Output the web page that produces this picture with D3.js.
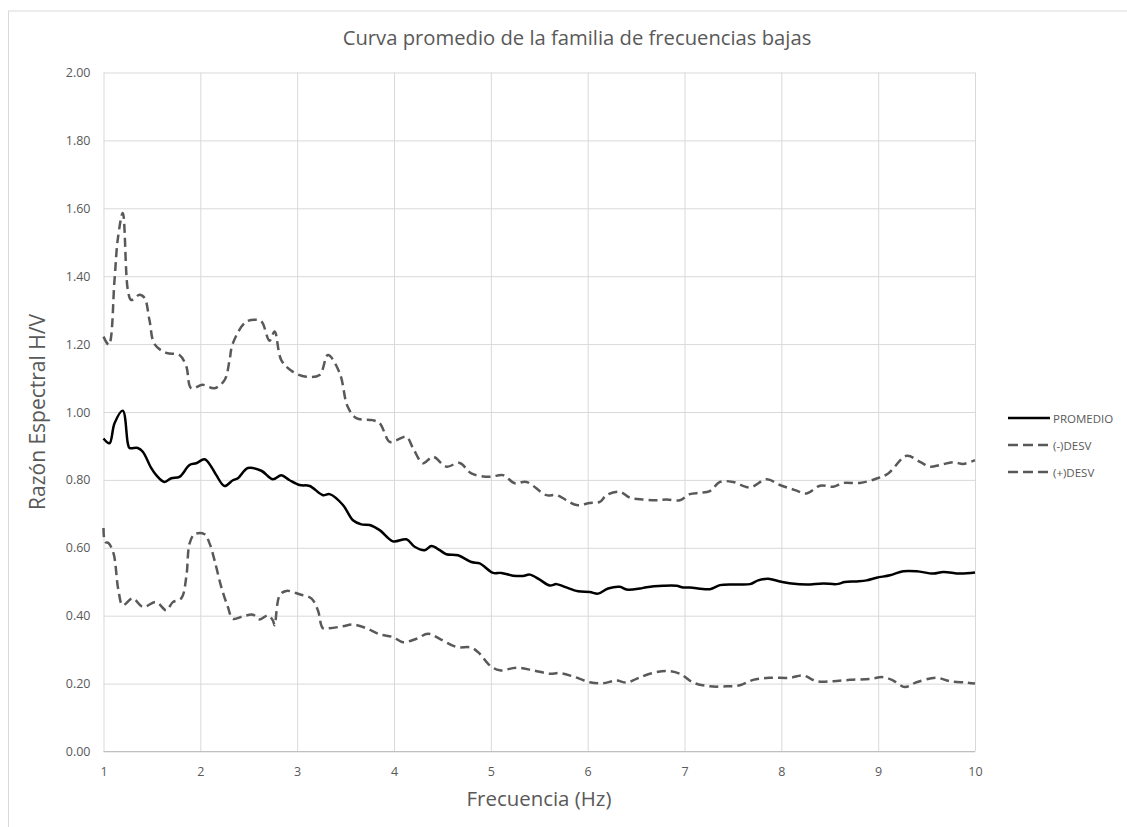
<!DOCTYPE html>
<html><head><meta charset="utf-8">
<script src="https://cdn.jsdelivr.net/npm/d3@7"></script>
<style>
html,body{margin:0;padding:0;background:#fff;}
svg{display:block;font-family:"Open Sans","Noto Sans",sans-serif;}
</style></head>
<body>
<svg id="c" width="1127" height="827"></svg>
<script>
const title = "Curva promedio de la familia de frecuencias bajas";
const xTitle = "Frecuencia (Hz)";
const yTitle = "Razón Espectral H/V";
const seriesNames = ["PROMEDIO", "(-)DESV", "(+)DESV"];
const xTicks = [1,2,3,4,5,6,7,8,9,10];
const yTicks = [0,0.2,0.4,0.6,0.8,1.0,1.2,1.4,1.6,1.8,2.0];

const promFreq = [1.00,1.062,1.114,1.199,1.251,1.269,1.354,1.406,1.493,1.545,1.630,1.700,1.785,1.889,1.958,2.044,2.113,2.165,2.250,2.336,2.388,2.491,2.630,2.749,2.836,2.922,3.025,3.129,3.266,3.335,3.473,3.576,3.663,3.749,3.852,3.989,4.128,4.213,4.317,4.386,4.472,4.541,4.661,4.799,4.885,5.023,5.109,5.229,5.333,5.402,5.505,5.608,5.678,5.763,5.901,6.022,6.108,6.211,6.332,6.401,6.539,6.608,6.779,6.918,6.986,7.055,7.262,7.366,7.521,7.676,7.761,7.864,7.985,8.106,8.261,8.432,8.571,8.656,8.777,8.881,8.984,9.122,9.259,9.397,9.569,9.672,9.845,10.0];
const promVal  = [0.922,0.908,0.967,1.004,0.908,0.894,0.894,0.883,0.835,0.814,0.794,0.805,0.809,0.844,0.849,0.861,0.839,0.814,0.782,0.799,0.805,0.835,0.827,0.802,0.814,0.799,0.785,0.782,0.755,0.758,0.726,0.681,0.669,0.667,0.652,0.619,0.625,0.603,0.593,0.605,0.593,0.581,0.578,0.558,0.554,0.526,0.526,0.518,0.517,0.521,0.506,0.489,0.493,0.485,0.472,0.470,0.465,0.480,0.485,0.477,0.480,0.484,0.488,0.488,0.483,0.483,0.478,0.490,0.492,0.493,0.504,0.509,0.501,0.495,0.492,0.495,0.493,0.499,0.501,0.504,0.512,0.519,0.531,0.531,0.524,0.529,0.524,0.527];

const lowFreq = [1.00,1.017,1.051,1.103,1.154,1.199,1.303,1.406,1.545,1.648,1.716,1.803,1.855,1.889,1.940,2.044,2.095,2.147,2.216,2.284,2.336,2.439,2.543,2.612,2.698,2.749,2.767,2.819,2.888,3.025,3.146,3.214,3.266,3.335,3.473,3.576,3.714,3.852,3.989,4.093,4.231,4.351,4.472,4.644,4.799,4.885,4.988,5.092,5.264,5.436,5.608,5.712,5.849,6.022,6.159,6.297,6.401,6.504,6.642,6.814,6.952,7.089,7.262,7.434,7.572,7.709,7.882,8.088,8.226,8.364,8.536,8.708,8.915,9.052,9.155,9.276,9.397,9.603,9.741,9.913,10.0];
const lowVal  = [0.658,0.617,0.614,0.584,0.475,0.431,0.451,0.426,0.440,0.416,0.440,0.451,0.514,0.613,0.640,0.640,0.613,0.563,0.485,0.426,0.391,0.398,0.403,0.389,0.401,0.386,0.372,0.460,0.473,0.463,0.451,0.416,0.363,0.363,0.369,0.374,0.363,0.345,0.337,0.322,0.332,0.347,0.332,0.308,0.306,0.288,0.254,0.239,0.247,0.239,0.229,0.231,0.221,0.204,0.201,0.209,0.203,0.214,0.229,0.237,0.229,0.203,0.192,0.192,0.195,0.211,0.217,0.217,0.224,0.207,0.207,0.211,0.214,0.219,0.209,0.190,0.204,0.217,0.207,0.203,0.200];

const highFreq = [1.00,1.055,1.114,1.148,1.199,1.251,1.286,1.372,1.424,1.475,1.527,1.648,1.785,1.855,1.906,2.023,2.147,2.250,2.302,2.333,2.474,2.612,2.643,2.715,2.767,2.836,2.953,3.094,3.232,3.318,3.439,3.521,3.611,3.779,3.852,3.955,4.024,4.128,4.196,4.299,4.403,4.541,4.678,4.799,4.988,5.126,5.247,5.368,5.574,5.678,5.884,6.022,6.125,6.194,6.332,6.435,6.573,6.711,6.814,6.952,7.055,7.158,7.262,7.366,7.502,7.675,7.848,7.985,8.141,8.261,8.400,8.536,8.640,8.812,8.984,9.104,9.294,9.432,9.535,9.638,9.776,9.879,10.0];
const highVal  = [1.222,1.198,1.39,1.51,1.586,1.36,1.33,1.345,1.336,1.27,1.20,1.174,1.168,1.134,1.07,1.08,1.07,1.094,1.153,1.20,1.266,1.27,1.262,1.21,1.237,1.153,1.119,1.104,1.109,1.168,1.115,1.016,0.982,0.976,0.967,0.912,0.917,0.927,0.894,0.849,0.868,0.839,0.850,0.819,0.809,0.814,0.790,0.794,0.755,0.755,0.726,0.732,0.735,0.755,0.765,0.748,0.742,0.740,0.742,0.740,0.758,0.762,0.767,0.794,0.794,0.778,0.802,0.785,0.770,0.760,0.783,0.780,0.791,0.791,0.804,0.819,0.871,0.853,0.839,0.844,0.852,0.847,0.858];

const svg = d3.select("#c");
const pLeft = 103.5, pRight = 975, pTop = 72.5, pBottom = 751.5;
const x = d3.scaleLinear().domain([1,10]).range([pLeft,pRight]);
const y = d3.scaleLinear().domain([0,2]).range([pBottom,pTop]);
const txt = "#595959", grid = "#d9d9d9";

// outer chart border
svg.append("rect").attr("x",8.5).attr("y",11).attr("width",1130).attr("height",830)
  .attr("fill","none").attr("stroke","#d9d9d9").attr("stroke-width",1);

// grid via axes
svg.append("g").attr("transform",`translate(0,${pBottom})`)
  .call(d3.axisBottom(x).tickValues(xTicks).tickSize(-(pBottom-pTop)).tickFormat(""))
  .call(g=>g.select(".domain").remove())
  .call(g=>g.selectAll("line").attr("stroke",grid));
svg.append("g").attr("transform",`translate(${pLeft},0)`)
  .call(d3.axisLeft(y).tickValues(yTicks).tickSize(-(pRight-pLeft)).tickFormat(""))
  .call(g=>g.select(".domain").remove())
  .call(g=>g.selectAll("line").attr("stroke",grid));
svg.append("line").attr("x1",pLeft).attr("x2",pRight).attr("y1",pBottom).attr("y2",pBottom)
  .attr("stroke","#bfbfbf");

// tick labels
const xa = svg.append("g").attr("transform",`translate(0,${pBottom})`)
  .call(d3.axisBottom(x).tickValues(xTicks).tickSize(0).tickPadding(16).tickFormat(d3.format("d")));
xa.select(".domain").remove();
xa.selectAll("text").attr("fill",txt).attr("font-size",12.5).attr("font-family","'Open Sans',sans-serif");
const ya = svg.append("g").attr("transform",`translate(${pLeft},0)`)
  .call(d3.axisLeft(y).tickValues(yTicks).tickSize(0).tickPadding(13).tickFormat(d3.format(".2f")));
ya.select(".domain").remove();
ya.selectAll("text").attr("fill",txt).attr("font-size",12.5).attr("font-family","'Open Sans',sans-serif");

function fit(sel, w){
  const l = sel.node().getComputedTextLength();
  const fs = parseFloat(sel.attr("font-size"));
  sel.attr("font-size", fs*w/l);
}

const t = svg.append("text").attr("x",577).attr("y",45).attr("text-anchor","middle")
  .attr("fill",txt).attr("font-size",18).text(title);
fit(t,469);
const xt = svg.append("text").attr("x",539).attr("y",806).attr("text-anchor","middle")
  .attr("fill",txt).attr("font-size",17).text(xTitle);
fit(xt,145);
const yt = svg.append("text").attr("transform","translate(45,412) rotate(-90)").attr("text-anchor","middle")
  .attr("fill",txt).attr("font-size",17).text(yTitle);
fit(yt,196);

const line = d3.line().x(d=>x(d[0])).y(d=>y(d[1])).curve(d3.curveCatmullRom.alpha(0.5));
const series = [
  {name:seriesNames[0], data:d3.zip(promFreq,promVal), color:"#000000", dash:null},
  {name:seriesNames[1], data:d3.zip(lowFreq,lowVal), color:"#595959", dash:"9,5"},
  {name:seriesNames[2], data:d3.zip(highFreq,highVal), color:"#595959", dash:"9,5"}
];
series.slice().reverse().forEach(s=>{
  svg.append("path").attr("d",line(s.data)).attr("fill","none")
    .attr("stroke",s.color).attr("stroke-width",2.5)
    .attr("stroke-dasharray",s.dash).attr("stroke-linejoin","round");
});

const lg = svg.append("g");
series.forEach((s,i)=>{
  const yy = 418 + i*27;
  lg.append("line").attr("x1",1008).attr("x2",1050).attr("y1",yy).attr("y2",yy)
    .attr("stroke",s.color).attr("stroke-width",2.5).attr("stroke-dasharray",s.dash?"10,5":null);
  lg.append("text").attr("x",1053).attr("y",yy+4.5).attr("fill",txt).attr("font-size",11.5)
    .text(s.name);
});
</script>
</body></html>
